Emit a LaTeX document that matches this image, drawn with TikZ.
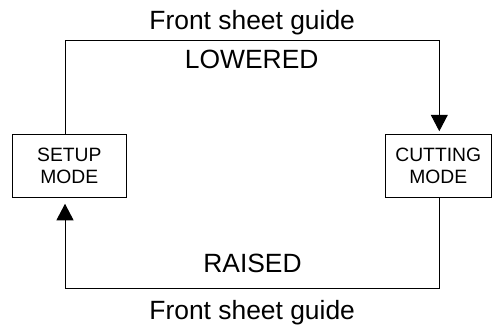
\documentclass[tikz,border=0pt]{standalone}
\usepackage{fontspec}
\setmainfont{Liberation Sans}
\usetikzlibrary{arrows.meta}
\begin{document}
\begin{tikzpicture}[x=1pt,y=-1pt,
  modebox/.style={draw=black,line width=0.9pt,minimum width=#1,minimum height=63.4pt,inner sep=0pt,align=center,font=\fontsize{19.3}{22.6}\selectfont},
  lbl/.style={anchor=base,inner sep=0pt,font=\fontsize{26.4}{30}\selectfont},
  conn/.style={line width=1pt,-{Triangle[width=17pt,length=16.5pt]}}]
\useasboundingbox (0,0) rectangle (492,325);
\node[modebox=113.3pt] (setup) at (69.35,166) {SETUP\\MODE};
\node[modebox=106.5pt] (cutting) at (438.25,166) {CUTTING\\MODE};
\coordinate (tl) at (65,40.3);
\coordinate (tr) at (439.3,40.3);
\coordinate (br) at (439.3,288.3);
\coordinate (bl) at (65,288.3);
\draw[conn,shorten >=2.6pt] (setup.north -| tl) -- (tl) -- (tr) -- (cutting.north -| tr);
\draw[conn,shorten >=5.6pt] (cutting.south -| br) -- (br) -- (bl) -- (setup.south -| bl);
\node[lbl] (ftop) at (252.2,29.3) {Front sheet guide};
\node[lbl] (lowered) at (251.7,68.3) {LOWERED};
\node[lbl] (raised) at (252.5,272.3) {RAISED};
\node[lbl] (fbot) at (252.2,319.3) {Front sheet guide};
\end{tikzpicture}
\end{document}
